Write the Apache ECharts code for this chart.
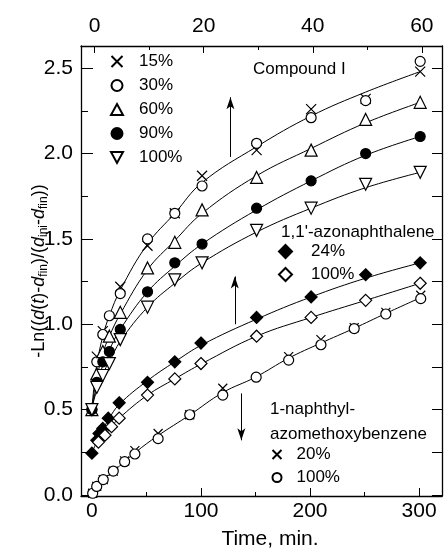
<!DOCTYPE html>
<html>
<head>
<meta charset="utf-8">
<script src="https://cdn.jsdelivr.net/npm/echarts@6/dist/echarts.min.js"></script>
<style>
  html, body { margin: 0; padding: 0; background: #fff; }
  #chart { width: 448px; height: 556px; }
</style>
</head>
<body>
<div id="chart"></div>
<script>
// ---- 数据 ----
// Compound I
var timeC = [0, 4.5, 10, 16, 26, 51, 76, 101, 151, 201, 251, 301];
var c15  = [0.50, 0.81, 0.96, null, 1.22, 1.46, 1.65, 1.87, 2.02, 2.26, 2.32, 2.48];
var c30  = [0.50, 0.78, 0.94, 1.05, 1.18, 1.50, 1.65, 1.81, 2.06, 2.21, 2.31, 2.54];
var c60  = [0.50, 0.71, 0.84, 0.93, 1.07, 1.33, 1.48, 1.67, 1.86, 2.02, 2.20, 2.30];
var c90  = [0.50, 0.66, 0.78, 0.84, 0.97, 1.19, 1.36, 1.47, 1.68, 1.84, 2.00, 2.10];
var c100 = [0.50, 0.63, 0.70, 0.77, 0.91, 1.10, 1.26, 1.36, 1.55, 1.68, 1.82, 1.89];

// 1,1'-azonaphthalene
var timeA24 = [0, 4.5, 6.5, 10, 15, 25, 51, 76, 100, 151, 201, 251, 301];
var a24 = [0.245, 0.32, 0.36, 0.39, 0.45, 0.54, 0.66, 0.78, 0.89, 1.04, 1.16, 1.29, 1.36];
var timeA100 = [6, 12, 18, 25, 51, 76, 100, 151, 201, 251, 301];
var a100 = [0.31, 0.35, 0.40, 0.45, 0.585, 0.68, 0.77, 0.93, 1.04, 1.14, 1.24];

// 1-naphthyl-azomethoxybenzene
var timeN = [0.7, 4.4, 10.4, 19.6, 30, 39.4, 60.7, 89.7, 120, 150.6, 180.4, 210, 240.5, 269.5, 301.5];
var n20  = [0.01, 0.05, 0.09, 0.14, 0.20, 0.26, 0.36, 0.47, 0.625, null, 0.81, 0.91, 0.98, 1.07, 1.17];
var n100 = [0.01, 0.05, 0.09, 0.14, 0.195, 0.24, 0.33, 0.47, 0.585, 0.69, 0.79, 0.88, 0.975, 1.06, 1.15];

// fitted curves
var fitT = [0, 2, 5, 10, 16, 26, 51, 76, 101, 151, 201, 251, 301];
var fitC15 = [0.5, 0.64, 0.78, 0.93, 1.05, 1.20, 1.47, 1.65, 1.83, 2.04, 2.22, 2.36, 2.48];
var fitC60 = [0.5, 0.60, 0.70, 0.83, 0.93, 1.06, 1.32, 1.49, 1.65, 1.87, 2.03, 2.18, 2.30];
var fitC90 = [0.5, 0.57, 0.65, 0.76, 0.85, 0.97, 1.19, 1.34, 1.47, 1.67, 1.84, 1.99, 2.10];
var fitC100 = [0.5, 0.56, 0.62, 0.71, 0.78, 0.90, 1.10, 1.24, 1.36, 1.54, 1.68, 1.80, 1.89];
var fitA24T = [0, 5, 10, 15, 25, 51, 76, 101, 151, 201, 251, 301];
var fitA24 = [0.245, 0.32, 0.38, 0.44, 0.53, 0.67, 0.78, 0.88, 1.03, 1.16, 1.27, 1.36];
var fitA100T = [5, 12, 18, 25, 51, 76, 101, 151, 201, 251, 301];
var fitA100 = [0.30, 0.35, 0.40, 0.45, 0.585, 0.68, 0.77, 0.93, 1.04, 1.14, 1.24];
var fitNT = [0, 10, 20, 40, 60, 90, 120, 150, 180, 210, 240, 270, 301];
var fitN = [0.0, 0.085, 0.14, 0.25, 0.345, 0.47, 0.60, 0.69, 0.80, 0.89, 0.975, 1.065, 1.155];

// 刻度
var xMajor = [0, 100, 200, 300];
var xMinor = [50, 150, 250];
var topMajor = [0, 20, 40, 60];
var topMinor = [10, 30, 50];
var yMajor = [0, 0.5, 1.0, 1.5, 2.0, 2.5];
var yMinor = [0.25, 0.75, 1.25, 1.75, 2.25];

// arrows: [x, yFrom, yTo]
var arrows = [[127, 1.98, 2.33], [131, 1.00, 1.28], [137, 0.595, 0.32]];

var FONT = '"Liberation Sans", Arial, Helvetica, sans-serif';
var CROSS = 'path://M0,0L10,10M10,0L0,10';
var TRI_DOWN = 'path://M0,0L12,0L6,11Z';

function pairs(t, v) {
  var out = [];
  for (var i = 0; i < t.length; i++) {
    if (v[i] !== null) out.push([t[i], v[i]]);
  }
  return out;
}

function marks(name, t, v, symbol, size, filled, rotate) {
  return {
    name: name,
    type: 'scatter',
    data: pairs(t, v),
    symbol: symbol,
    symbolSize: size,
    symbolRotate: rotate || 0,
    itemStyle: {
      color: symbol === CROSS ? 'none' : (filled ? '#000' : '#fff'),
      borderColor: '#000',
      borderWidth: 1.2,
      opacity: 1
    },
    emphasis: { disabled: true },
    z: 3
  };
}

function fit(t, v) {
  return {
    type: 'line',
    data: pairs(t, v),
    smooth: 0.4,
    showSymbol: false,
    lineStyle: { color: '#000', width: 1 },
    emphasis: { disabled: true },
    silent: true,
    z: 2
  };
}

// 初始化
var chart = echarts.init(document.getElementById('chart'));

var arrowLine = fit(fitNT, fitN);
arrowLine.markLine = {
  silent: true,
  symbol: ['none', 'arrow'],
  symbolSize: [6, 12],
  label: { show: false },
  lineStyle: { color: '#000', width: 1, type: 'solid' },
  data: arrows.map(function (a) {
    return [{ coord: [a[0], a[1]] }, { coord: [a[0], a[2]] }];
  })
};

function legendText(pad) {
  return { color: '#000', fontSize: 17, fontFamily: FONT, padding: [0, 0, 0, pad] };
}

var option = {
  animation: false,
  grid: { left: 81, right: 6, top: 46, bottom: 60 },
  legend: [
    {
      orient: 'vertical', left: 104, top: 48, itemWidth: 12, itemHeight: 11, itemGap: 7,
      data: ['C 15%', 'C 30%', 'C 60%', 'C 90%', { name: 'C 100%', icon: TRI_DOWN }],
      formatter: function (n) { return n.slice(2); },
      textStyle: legendText(11), selectedMode: false
    },
    {
      orient: 'vertical', left: 273, top: 238, itemWidth: 13, itemHeight: 13, itemGap: 6,
      data: ['A 24%', 'A 100%'],
      formatter: function (n) { return n.slice(2); },
      textStyle: legendText(14), selectedMode: false
    },
    {
      orient: 'vertical', left: 265, top: 441, itemWidth: 9, itemHeight: 9, itemGap: 6,
      data: ['N 20%', 'N 100%'],
      formatter: function (n) { return n.slice(2); },
      textStyle: legendText(10), selectedMode: false
    }
  ],
  xAxis: [
    {
      type: 'value', position: 'bottom', min: -10, max: 321,
      axisLine: { show: true, onZero: false, lineStyle: { color: '#000', width: 1.3 } },
      axisTick: { show: true, inside: true, length: 8, customValues: xMajor, lineStyle: { color: '#000', width: 1 } },
      axisLabel: { customValues: xMajor, margin: 5, color: '#000', fontSize: 21, fontFamily: FONT },
      splitLine: { show: false },
      name: 'Time, min.', nameLocation: 'middle', nameGap: 33,
      nameTextStyle: { color: '#000', fontSize: 21, fontFamily: FONT, padding: [0, 0, 0, 17] }
    },
    {
      type: 'value', position: 'bottom', min: -10, max: 321,
      axisLine: { show: false, onZero: false },
      axisTick: { show: true, inside: true, length: 4, customValues: xMinor, lineStyle: { color: '#000', width: 1 } },
      axisLabel: { show: false },
      splitLine: { show: false }
    },
    {
      type: 'value', position: 'top', min: -2.5, max: 63.7,
      axisLine: { show: true, onZero: false, lineStyle: { color: '#000', width: 1.3 } },
      axisTick: { show: true, inside: true, length: 7, customValues: topMajor, lineStyle: { color: '#000', width: 1 } },
      axisLabel: { customValues: topMajor, margin: 9, color: '#000', fontSize: 21, fontFamily: FONT },
      splitLine: { show: false }
    },
    {
      type: 'value', position: 'top', min: -2.5, max: 63.7,
      axisLine: { show: false, onZero: false },
      axisTick: { show: true, inside: true, length: 4, customValues: topMinor, lineStyle: { color: '#000', width: 1 } },
      axisLabel: { show: false },
      splitLine: { show: false }
    }
  ],
  yAxis: [
    {
      type: 'value', position: 'left', min: -0.006, max: 2.63,
      axisLine: { show: true, onZero: false, lineStyle: { color: '#000', width: 1.3 } },
      axisTick: { show: true, inside: true, length: 12, customValues: yMajor, lineStyle: { color: '#000', width: 1 } },
      axisLabel: {
        customValues: yMajor, margin: 8, color: '#000', fontSize: 21, fontFamily: FONT,
        formatter: function (v) { return v.toFixed(1); }
      },
      splitLine: { show: false }
    },
    {
      type: 'value', position: 'left', min: -0.006, max: 2.63,
      axisLine: { show: false, onZero: false },
      axisTick: { show: true, inside: true, length: 7, customValues: yMinor, lineStyle: { color: '#000', width: 1 } },
      axisLabel: { show: false },
      splitLine: { show: false }
    },
    {
      type: 'value', position: 'right', min: -0.006, max: 2.63,
      axisLine: { show: true, onZero: false, lineStyle: { color: '#000', width: 1.3 } },
      axisTick: { show: true, inside: true, length: 10, customValues: yMajor.concat(yMinor), lineStyle: { color: '#000', width: 1 } },
      axisLabel: { show: false },
      splitLine: { show: false }
    }
  ],
  graphic: [
    {
      type: 'text', x: 39, y: 271, rotation: Math.PI / 2,
      style: {
        text: '-Ln(({i|d}({i|t})-{i|d}{s|fin})/({i|d}{s|ini}-{i|d}{s|fin}))',
        align: 'center', verticalAlign: 'middle',
        fill: '#000', font: '18px ' + FONT, lineHeight: 22,
        rich: {
          i: { fontStyle: 'italic', fontSize: 18, fontFamily: FONT, fill: '#000', lineHeight: 22 },
          s: { fontSize: 12, fontFamily: FONT, fill: '#000', lineHeight: 12, verticalAlign: 'bottom' }
        }
      }
    },
    { type: 'text', left: 253, top: 61, style: { text: 'Compound I', fill: '#000', font: '17px ' + FONT } },
    { type: 'text', left: 281, top: 224, style: { text: "1,1'-azonaphthalene", fill: '#000', font: '17px ' + FONT } },
    { type: 'text', left: 270, top: 401, style: { text: '1-naphthyl-', fill: '#000', font: '17px ' + FONT } },
    { type: 'text', left: 270, top: 426, style: { text: 'azomethoxybenzene', fill: '#000', font: '17px ' + FONT } }
  ],
  series: [
    fit(fitT, fitC15),
    fit(fitT, fitC60),
    fit(fitT, fitC90),
    fit(fitT, fitC100),
    fit(fitA24T, fitA24),
    fit(fitA100T, fitA100),
    arrowLine,
    marks('C 15%', timeC, c15, CROSS, 10, false),
    marks('C 30%', timeC, c30, 'circle', 10, false),
    marks('C 60%', timeC, c60, 'triangle', 12, false),
    marks('C 90%', timeC, c90, 'circle', 10, true),
    marks('C 100%', timeC, c100, 'triangle', 12, false, 180),
    marks('A 24%', timeA24, a24, 'diamond', 12, true),
    marks('A 100%', timeA100, a100, 'diamond', 12, false),
    marks('N 20%', timeN, n20, CROSS, 9, false),
    marks('N 100%', timeN, n100, 'circle', 10, false)
  ]
};

// 设置内容
chart.setOption(option);
</script>
</body>
</html>
